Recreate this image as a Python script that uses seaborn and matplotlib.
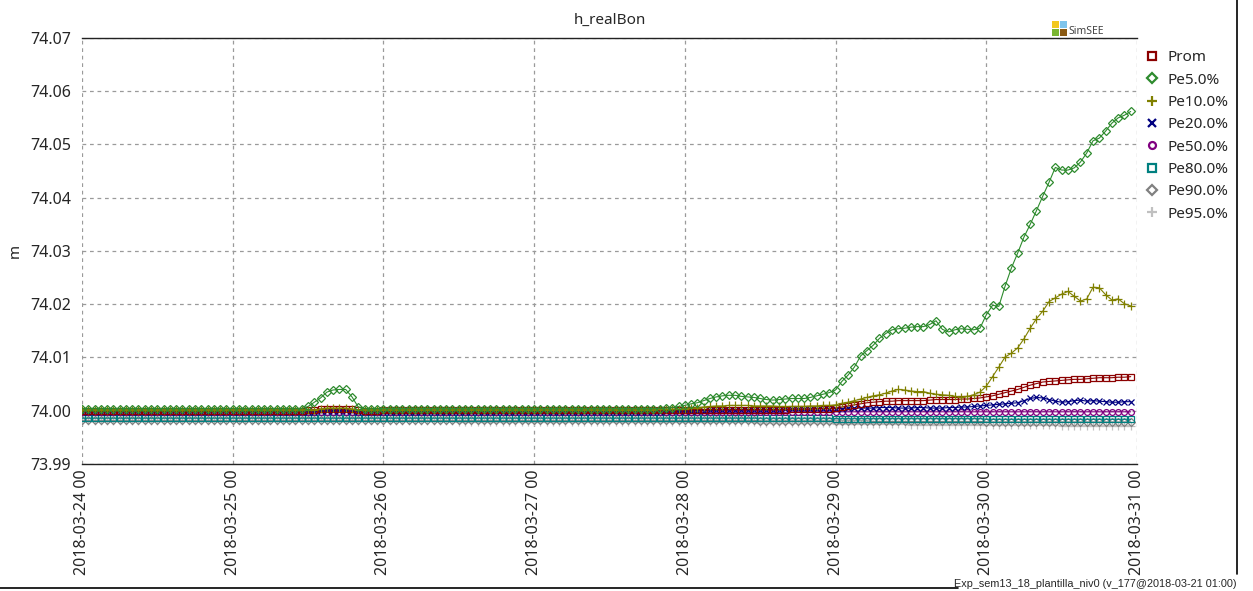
import pandas as pd
import seaborn as sns
import matplotlib.pyplot as plt
import matplotlib.dates as mdates
from matplotlib.lines import Line2D
from matplotlib.patches import Rectangle

# hourly values, 2018-03-24 00 .. 2018-03-30 23 (one row of 12 = half a day)
prom = [
    73.9999, 73.9999, 73.9999, 73.9999, 73.9999, 73.9999, 73.9999, 73.9999, 73.9999, 73.9999, 73.9999, 73.9999,
    73.9999, 73.9999, 73.9999, 73.9999, 73.9999, 73.9999, 73.9999, 73.9999, 73.9999, 73.9999, 73.9999, 73.9999,
    74.0000, 74.0000, 74.0000, 74.0000, 74.0000, 74.0000, 74.0000, 74.0000, 74.0000, 74.0000, 74.0000, 74.0000,
    74.0001, 74.0002, 74.0003, 74.0004, 74.0004, 74.0004, 74.0004, 74.0003, 74.0001, 74.0000, 74.0000, 74.0000,
    74.0001, 74.0001, 74.0001, 74.0001, 74.0001, 74.0001, 74.0001, 74.0001, 74.0001, 74.0001, 74.0001, 74.0001,
    74.0001, 74.0001, 74.0001, 74.0001, 74.0001, 74.0001, 74.0001, 74.0001, 74.0001, 74.0001, 74.0001, 74.0001,
    74.0001, 74.0001, 74.0001, 74.0001, 74.0001, 74.0001, 74.0001, 74.0001, 74.0001, 74.0001, 74.0001, 74.0001,
    74.0001, 74.0001, 74.0001, 74.0001, 74.0001, 74.0001, 74.0001, 74.0001, 74.0001, 74.0001, 74.0002, 74.0002,
    74.0002, 74.0002, 74.0002, 74.0002, 74.0002, 74.0002, 74.0002, 74.0002, 74.0002, 74.0002, 74.0002, 74.0002,
    74.0002, 74.0002, 74.0002, 74.0002, 74.0002, 74.0003, 74.0003, 74.0003, 74.0003, 74.0004, 74.0004, 74.0004,
    74.0005, 74.0007, 74.0009, 74.0011, 74.0013, 74.0015, 74.0016, 74.0017, 74.0018, 74.0018, 74.0019, 74.0019,
    74.0019, 74.0019, 74.0019, 74.0020, 74.0021, 74.0021, 74.0021, 74.0021, 74.0022, 74.0022, 74.0023, 74.0024,
    74.0026, 74.0028, 74.0031, 74.0034, 74.0037, 74.0040, 74.0044, 74.0048, 74.0051, 74.0054, 74.0055, 74.0056,
    74.0057, 74.0058, 74.0059, 74.0059, 74.0060, 74.0061, 74.0062, 74.0062, 74.0062, 74.0063, 74.0063, 74.0064,
]
pe5 = [
    74.0004, 74.0004, 74.0004, 74.0004, 74.0004, 74.0004, 74.0004, 74.0004, 74.0004, 74.0004, 74.0004, 74.0004,
    74.0004, 74.0004, 74.0004, 74.0004, 74.0004, 74.0004, 74.0004, 74.0004, 74.0004, 74.0004, 74.0004, 74.0004,
    74.0004, 74.0004, 74.0004, 74.0004, 74.0004, 74.0004, 74.0004, 74.0004, 74.0004, 74.0004, 74.0004, 74.0004,
    74.0008, 74.0016, 74.0024, 74.0035, 74.0039, 74.0040, 74.0040, 74.0026, 74.0007, 74.0004, 74.0004, 74.0004,
    74.0004, 74.0004, 74.0004, 74.0004, 74.0004, 74.0004, 74.0004, 74.0004, 74.0004, 74.0004, 74.0004, 74.0004,
    74.0004, 74.0004, 74.0004, 74.0004, 74.0004, 74.0004, 74.0004, 74.0004, 74.0004, 74.0004, 74.0004, 74.0004,
    74.0004, 74.0004, 74.0004, 74.0004, 74.0004, 74.0004, 74.0004, 74.0004, 74.0004, 74.0004, 74.0004, 74.0004,
    74.0004, 74.0004, 74.0004, 74.0004, 74.0004, 74.0004, 74.0004, 74.0004, 74.0004, 74.0005, 74.0006, 74.0008,
    74.0010, 74.0013, 74.0015, 74.0019, 74.0023, 74.0026, 74.0028, 74.0029, 74.0029, 74.0027, 74.0026, 74.0025,
    74.0023, 74.0021, 74.0020, 74.0021, 74.0022, 74.0023, 74.0023, 74.0023, 74.0025, 74.0028, 74.0031, 74.0034,
    74.0039, 74.0055, 74.0067, 74.0082, 74.0103, 74.0113, 74.0123, 74.0136, 74.0145, 74.0152, 74.0154, 74.0155,
    74.0157, 74.0158, 74.0158, 74.0162, 74.0169, 74.0153, 74.0148, 74.0152, 74.0154, 74.0153, 74.0152, 74.0155,
    74.0180, 74.0198, 74.0196, 74.0234, 74.0268, 74.0296, 74.0326, 74.0350, 74.0376, 74.0403, 74.0429, 74.0457,
    74.0452, 74.0452, 74.0456, 74.0467, 74.0484, 74.0507, 74.0512, 74.0525, 74.0540, 74.0550, 74.0555, 74.0562,
]
pe10 = [
    74.0002, 74.0002, 74.0002, 74.0002, 74.0002, 74.0002, 74.0002, 74.0002, 74.0002, 74.0002, 74.0002, 74.0002,
    74.0002, 74.0002, 74.0002, 74.0002, 74.0002, 74.0002, 74.0002, 74.0002, 74.0002, 74.0002, 74.0002, 74.0002,
    74.0002, 74.0002, 74.0002, 74.0002, 74.0002, 74.0002, 74.0002, 74.0002, 74.0002, 74.0002, 74.0002, 74.0002,
    74.0002, 74.0002, 74.0003, 74.0005, 74.0005, 74.0005, 74.0005, 74.0003, 74.0002, 74.0002, 74.0002, 74.0002,
    74.0002, 74.0002, 74.0002, 74.0002, 74.0002, 74.0002, 74.0002, 74.0002, 74.0002, 74.0002, 74.0002, 74.0002,
    74.0002, 74.0002, 74.0002, 74.0002, 74.0002, 74.0002, 74.0002, 74.0002, 74.0002, 74.0002, 74.0002, 74.0002,
    74.0002, 74.0002, 74.0002, 74.0002, 74.0002, 74.0002, 74.0002, 74.0002, 74.0002, 74.0002, 74.0002, 74.0002,
    74.0002, 74.0002, 74.0002, 74.0002, 74.0002, 74.0002, 74.0002, 74.0002, 74.0003, 74.0003, 74.0003, 74.0003,
    74.0004, 74.0005, 74.0006, 74.0007, 74.0008, 74.0009, 74.0009, 74.0010, 74.0010, 74.0010, 74.0010, 74.0009,
    74.0009, 74.0009, 74.0009, 74.0008, 74.0008, 74.0008, 74.0008, 74.0008, 74.0009, 74.0009, 74.0010, 74.0010,
    74.0011, 74.0014, 74.0016, 74.0019, 74.0022, 74.0025, 74.0028, 74.0030, 74.0033, 74.0037, 74.0040, 74.0039,
    74.0037, 74.0036, 74.0036, 74.0033, 74.0031, 74.0030, 74.0029, 74.0027, 74.0026, 74.0027, 74.0030, 74.0035,
    74.0046, 74.0064, 74.0082, 74.0101, 74.0108, 74.0118, 74.0135, 74.0155, 74.0173, 74.0187, 74.0205, 74.0212,
    74.0219, 74.0224, 74.0215, 74.0206, 74.0210, 74.0232, 74.0231, 74.0218, 74.0208, 74.0210, 74.0201, 74.0197,
]
pe20 = [
    73.9998, 73.9998, 73.9998, 73.9998, 73.9998, 73.9998, 73.9998, 73.9998, 73.9998, 73.9998, 73.9998, 73.9998,
    73.9998, 73.9998, 73.9998, 73.9998, 73.9998, 73.9998, 73.9998, 73.9998, 73.9998, 73.9998, 73.9998, 73.9998,
    73.9998, 73.9998, 73.9998, 73.9998, 73.9998, 73.9998, 73.9998, 73.9998, 73.9998, 73.9998, 73.9998, 73.9998,
    73.9998, 73.9998, 73.9999, 73.9999, 73.9999, 73.9999, 73.9999, 73.9999, 73.9998, 73.9998, 73.9998, 73.9998,
    73.9998, 73.9998, 73.9998, 73.9998, 73.9998, 73.9998, 73.9998, 73.9998, 73.9998, 73.9998, 73.9998, 73.9998,
    73.9998, 73.9998, 73.9998, 73.9998, 73.9998, 73.9998, 73.9998, 73.9998, 73.9998, 73.9998, 73.9998, 73.9998,
    73.9998, 73.9998, 73.9998, 73.9998, 73.9998, 73.9998, 73.9998, 73.9998, 73.9998, 73.9998, 73.9998, 73.9998,
    73.9998, 73.9998, 73.9998, 73.9998, 73.9998, 73.9998, 73.9998, 73.9998, 73.9998, 73.9999, 73.9999, 73.9999,
    73.9999, 73.9999, 74.0000, 74.0000, 74.0001, 74.0001, 74.0002, 74.0002, 74.0002, 74.0002, 74.0002, 74.0002,
    74.0002, 74.0002, 74.0002, 74.0002, 74.0003, 74.0003, 74.0003, 74.0003, 74.0003, 74.0004, 74.0004, 74.0004,
    74.0004, 74.0004, 74.0005, 74.0005, 74.0005, 74.0005, 74.0005, 74.0006, 74.0006, 74.0006, 74.0005, 74.0005,
    74.0005, 74.0006, 74.0006, 74.0005, 74.0005, 74.0005, 74.0006, 74.0006, 74.0007, 74.0007, 74.0008, 74.0009,
    74.0010, 74.0011, 74.0012, 74.0013, 74.0014, 74.0015, 74.0019, 74.0023, 74.0025, 74.0024, 74.0021, 74.0018,
    74.0016, 74.0017, 74.0019, 74.0020, 74.0018, 74.0019, 74.0018, 74.0017, 74.0016, 74.0016, 74.0017, 74.0017,
]
pe50 = [
    73.9997, 73.9997, 73.9997, 73.9997, 73.9997, 73.9997, 73.9997, 73.9997, 73.9997, 73.9997, 73.9997, 73.9997,
    73.9997, 73.9997, 73.9997, 73.9997, 73.9997, 73.9997, 73.9997, 73.9997, 73.9997, 73.9997, 73.9997, 73.9997,
    73.9997, 73.9997, 73.9997, 73.9997, 73.9997, 73.9997, 73.9997, 73.9997, 73.9997, 73.9997, 73.9997, 73.9997,
    73.9997, 73.9997, 73.9997, 73.9997, 73.9997, 73.9997, 73.9997, 73.9997, 73.9997, 73.9997, 73.9997, 73.9997,
    73.9997, 73.9997, 73.9997, 73.9997, 73.9997, 73.9997, 73.9997, 73.9997, 73.9997, 73.9997, 73.9997, 73.9997,
    73.9997, 73.9997, 73.9997, 73.9997, 73.9997, 73.9997, 73.9997, 73.9997, 73.9997, 73.9997, 73.9997, 73.9997,
    73.9997, 73.9997, 73.9997, 73.9997, 73.9997, 73.9997, 73.9997, 73.9997, 73.9997, 73.9997, 73.9997, 73.9997,
    73.9997, 73.9997, 73.9997, 73.9997, 73.9997, 73.9997, 73.9997, 73.9997, 73.9997, 73.9997, 73.9997, 73.9997,
    73.9997, 73.9997, 73.9997, 73.9997, 73.9997, 73.9997, 73.9997, 73.9997, 73.9997, 73.9997, 73.9997, 73.9997,
    73.9997, 73.9997, 73.9997, 73.9997, 73.9997, 73.9998, 73.9998, 73.9998, 73.9998, 73.9998, 73.9998, 73.9998,
    73.9998, 73.9998, 73.9998, 73.9998, 73.9998, 73.9998, 73.9998, 73.9998, 73.9998, 73.9998, 73.9998, 73.9998,
    73.9998, 73.9998, 73.9998, 73.9998, 73.9998, 73.9998, 73.9998, 73.9998, 73.9998, 73.9998, 73.9998, 73.9998,
    73.9998, 73.9998, 73.9998, 73.9998, 73.9998, 73.9998, 73.9998, 73.9998, 73.9998, 73.9998, 73.9998, 73.9998,
    73.9998, 73.9998, 73.9998, 73.9998, 73.9998, 73.9998, 73.9998, 73.9998, 73.9998, 73.9998, 73.9998, 73.9998,
]
pe80 = [
    73.9986, 73.9986, 73.9986, 73.9986, 73.9986, 73.9986, 73.9986, 73.9986, 73.9986, 73.9986, 73.9986, 73.9986,
    73.9986, 73.9986, 73.9986, 73.9986, 73.9986, 73.9986, 73.9986, 73.9986, 73.9986, 73.9986, 73.9986, 73.9986,
    73.9986, 73.9986, 73.9986, 73.9986, 73.9986, 73.9986, 73.9986, 73.9986, 73.9986, 73.9986, 73.9986, 73.9986,
    73.9986, 73.9986, 73.9986, 73.9986, 73.9986, 73.9986, 73.9986, 73.9986, 73.9986, 73.9986, 73.9986, 73.9986,
    73.9986, 73.9986, 73.9986, 73.9986, 73.9986, 73.9986, 73.9986, 73.9986, 73.9986, 73.9986, 73.9986, 73.9986,
    73.9986, 73.9986, 73.9986, 73.9986, 73.9986, 73.9986, 73.9986, 73.9986, 73.9986, 73.9986, 73.9986, 73.9986,
    73.9986, 73.9986, 73.9986, 73.9986, 73.9986, 73.9986, 73.9986, 73.9986, 73.9986, 73.9986, 73.9986, 73.9986,
    73.9986, 73.9986, 73.9986, 73.9986, 73.9986, 73.9986, 73.9986, 73.9986, 73.9986, 73.9986, 73.9986, 73.9986,
    73.9986, 73.9986, 73.9986, 73.9986, 73.9986, 73.9986, 73.9986, 73.9986, 73.9986, 73.9986, 73.9986, 73.9986,
    73.9986, 73.9986, 73.9986, 73.9986, 73.9986, 73.9986, 73.9986, 73.9986, 73.9986, 73.9986, 73.9986, 73.9986,
    73.9985, 73.9985, 73.9985, 73.9985, 73.9985, 73.9985, 73.9985, 73.9985, 73.9985, 73.9985, 73.9985, 73.9985,
    73.9985, 73.9985, 73.9985, 73.9985, 73.9985, 73.9985, 73.9985, 73.9985, 73.9985, 73.9985, 73.9985, 73.9985,
    73.9984, 73.9984, 73.9984, 73.9984, 73.9984, 73.9984, 73.9984, 73.9984, 73.9984, 73.9984, 73.9984, 73.9984,
    73.9984, 73.9984, 73.9984, 73.9984, 73.9984, 73.9984, 73.9984, 73.9984, 73.9984, 73.9984, 73.9984, 73.9984,
]
pe90 = [
    73.9982, 73.9982, 73.9982, 73.9982, 73.9982, 73.9982, 73.9982, 73.9982, 73.9982, 73.9982, 73.9982, 73.9982,
    73.9982, 73.9982, 73.9982, 73.9982, 73.9982, 73.9982, 73.9982, 73.9982, 73.9982, 73.9982, 73.9982, 73.9982,
    73.9982, 73.9982, 73.9982, 73.9982, 73.9982, 73.9982, 73.9982, 73.9982, 73.9982, 73.9982, 73.9982, 73.9982,
    73.9982, 73.9982, 73.9982, 73.9982, 73.9982, 73.9982, 73.9982, 73.9982, 73.9982, 73.9982, 73.9982, 73.9982,
    73.9982, 73.9982, 73.9982, 73.9982, 73.9982, 73.9982, 73.9982, 73.9982, 73.9982, 73.9982, 73.9982, 73.9982,
    73.9982, 73.9982, 73.9982, 73.9982, 73.9982, 73.9982, 73.9982, 73.9982, 73.9982, 73.9982, 73.9982, 73.9982,
    73.9982, 73.9982, 73.9982, 73.9982, 73.9982, 73.9982, 73.9982, 73.9982, 73.9982, 73.9982, 73.9982, 73.9982,
    73.9982, 73.9982, 73.9982, 73.9982, 73.9982, 73.9982, 73.9982, 73.9982, 73.9982, 73.9982, 73.9982, 73.9982,
    73.9982, 73.9982, 73.9982, 73.9982, 73.9982, 73.9982, 73.9982, 73.9982, 73.9982, 73.9982, 73.9982, 73.9982,
    73.9981, 73.9981, 73.9981, 73.9981, 73.9981, 73.9981, 73.9981, 73.9981, 73.9981, 73.9981, 73.9981, 73.9981,
    73.9981, 73.9981, 73.9981, 73.9981, 73.9981, 73.9981, 73.9980, 73.9980, 73.9980, 73.9980, 73.9980, 73.9980,
    73.9980, 73.9980, 73.9980, 73.9980, 73.9980, 73.9980, 73.9980, 73.9980, 73.9980, 73.9980, 73.9980, 73.9980,
    73.9979, 73.9979, 73.9979, 73.9979, 73.9979, 73.9979, 73.9979, 73.9979, 73.9979, 73.9979, 73.9979, 73.9979,
    73.9979, 73.9979, 73.9979, 73.9979, 73.9979, 73.9979, 73.9979, 73.9979, 73.9979, 73.9979, 73.9979, 73.9979,
]
pe95 = [
    73.9980, 73.9980, 73.9980, 73.9980, 73.9980, 73.9980, 73.9980, 73.9980, 73.9980, 73.9980, 73.9980, 73.9980,
    73.9980, 73.9980, 73.9980, 73.9980, 73.9980, 73.9980, 73.9980, 73.9980, 73.9980, 73.9980, 73.9980, 73.9980,
    73.9980, 73.9980, 73.9980, 73.9980, 73.9980, 73.9980, 73.9980, 73.9980, 73.9980, 73.9980, 73.9980, 73.9980,
    73.9980, 73.9980, 73.9980, 73.9980, 73.9980, 73.9980, 73.9980, 73.9980, 73.9980, 73.9980, 73.9980, 73.9980,
    73.9980, 73.9980, 73.9980, 73.9980, 73.9980, 73.9980, 73.9980, 73.9980, 73.9980, 73.9980, 73.9980, 73.9980,
    73.9979, 73.9979, 73.9979, 73.9979, 73.9979, 73.9979, 73.9979, 73.9979, 73.9979, 73.9979, 73.9979, 73.9979,
    73.9979, 73.9979, 73.9979, 73.9979, 73.9979, 73.9979, 73.9979, 73.9979, 73.9979, 73.9979, 73.9979, 73.9979,
    73.9979, 73.9979, 73.9979, 73.9979, 73.9979, 73.9979, 73.9979, 73.9979, 73.9979, 73.9979, 73.9979, 73.9979,
    73.9978, 73.9978, 73.9978, 73.9978, 73.9978, 73.9978, 73.9978, 73.9978, 73.9978, 73.9978, 73.9978, 73.9978,
    73.9977, 73.9977, 73.9977, 73.9977, 73.9977, 73.9977, 73.9977, 73.9977, 73.9977, 73.9977, 73.9977, 73.9977,
    73.9976, 73.9976, 73.9976, 73.9976, 73.9976, 73.9976, 73.9975, 73.9975, 73.9975, 73.9975, 73.9975, 73.9975,
    73.9974, 73.9974, 73.9974, 73.9974, 73.9974, 73.9974, 73.9974, 73.9974, 73.9974, 73.9974, 73.9974, 73.9974,
    73.9973, 73.9973, 73.9973, 73.9973, 73.9973, 73.9973, 73.9973, 73.9973, 73.9973, 73.9973, 73.9973, 73.9973,
    73.9972, 73.9972, 73.9972, 73.9972, 73.9972, 73.9972, 73.9972, 73.9972, 73.9972, 73.9972, 73.9972, 73.9972,
]

names = ['Prom', 'Pe5.0%', 'Pe10.0%', 'Pe20.0%', 'Pe50.0%', 'Pe80.0%', 'Pe90.0%', 'Pe95.0%']
series = [prom, pe5, pe10, pe20, pe50, pe80, pe90, pe95]
colors = ['#8b0000', '#2e8b2e', '#808000', '#000080', '#800080', '#008080', '#808080', '#c0c0c0']
markers = ['s', 'D', '+', 'x', 'o', 's', 'D', '+']
msizes = [4.6, 4.2, 6, 4.6, 4.2, 4.6, 4.2, 6]

times = pd.date_range('2018-03-24 00:00', periods=len(prom), freq='h')

sns.set_style('white')
plt.rcParams['font.family'] = ['Noto Sans', 'DejaVu Sans']

fig = plt.figure(figsize=(12.53, 5.91), dpi=100)
ax = fig.add_axes([0.0654, 0.2149, 0.842, 0.7208])

# draw the bottom percentiles first, Pe5 ends up on top
for i in [7, 6, 5, 4, 3, 0, 2, 1]:
    filled = markers[i] not in ('+', 'x')
    sns.lineplot(x=times, y=series[i], ax=ax, color=colors[i], lw=0.8,
                 marker=markers[i], markersize=msizes[i],
                 markerfacecolor='none' if filled else colors[i],
                 markeredgecolor=colors[i], markeredgewidth=0.9,
                 legend=False)

ax.set_xlim(pd.Timestamp('2018-03-24 00:00'), pd.Timestamp('2018-03-31 00:00'))
ax.set_ylim(73.99, 74.07)
ax.set_yticks([73.99, 74.00, 74.01, 74.02, 74.03, 74.04, 74.05, 74.06, 74.07])
ax.yaxis.set_major_formatter(plt.FormatStrFormatter('%.2f'))
ax.xaxis.set_major_locator(mdates.DayLocator())
ax.xaxis.set_major_formatter(mdates.DateFormatter('%Y-%m-%d %H'))
ax.tick_params(axis='x', labelrotation=90, length=0, pad=4, labelsize=11.5)
ax.tick_params(axis='y', length=0, pad=8, labelsize=11.5)
ax.grid(True, color='#9a9a9a', linestyle=(0, (3, 3)), linewidth=0.9)
ax.set_xlabel('')
ax.set_ylabel('m', fontsize=11, labelpad=5)
ax.set_title('h_realBon', fontsize=11, pad=10)

for s in ['top', 'bottom']:
    ax.spines[s].set_color('#222222')
    ax.spines[s].set_linewidth(1)
ax.spines['left'].set_visible(False)
ax.spines['right'].set_visible(False)

handles = []
for i in range(len(names)):
    filled = markers[i] not in ('+', 'x')
    handles.append(Line2D([], [], ls='none', marker=markers[i], markersize=msizes[i] + 0.8,
                          color=colors[i], markerfacecolor='white' if filled else colors[i],
                          markeredgecolor=colors[i], markeredgewidth=1.6))
fig.legend(handles, names, loc='upper left', bbox_to_anchor=(0.91, 0.925),
           frameon=False, fontsize=11, handlelength=0.8, handletextpad=0.6,
           labelspacing=0.48, borderaxespad=0)

# SimSEE logo above the top-right corner
for (x0, y0, c) in [(1052, 21, '#f2c81e'), (1060, 21, '#7ec4ec'),
                    (1052, 29, '#79b530'), (1060, 29, '#8a5a14')]:
    fig.add_artist(Rectangle((x0 / 1253, 1 - (y0 + 7) / 591), 7 / 1253, 7 / 591,
                             transform=fig.transFigure, color=c, lw=0))
fig.text(1068 / 1253, 1 - 32 / 591, 'SimSEE', fontsize=7.5, color='#444444', va='center')

# outer frame and run tag
fig.add_artist(Line2D([1237 / 1253, 1237 / 1253], [1 - 574 / 591, 1.0],
                      transform=fig.transFigure, color='black', lw=1.2))
fig.add_artist(Line2D([0, 958 / 1253], [1 - 588 / 591, 1 - 588 / 591],
                      transform=fig.transFigure, color='black', lw=1.2))
fig.text(1237 / 1253, 1 - 589 / 591, 'Exp_sem13_18_plantilla_niv0 (v_177@2018-03-21 01:00)',
         ha='right', va='bottom', fontsize=7.8,
         family=['Liberation Sans Narrow', 'Liberation Sans', 'DejaVu Sans'])

fig.savefig('out.png', dpi=100)
